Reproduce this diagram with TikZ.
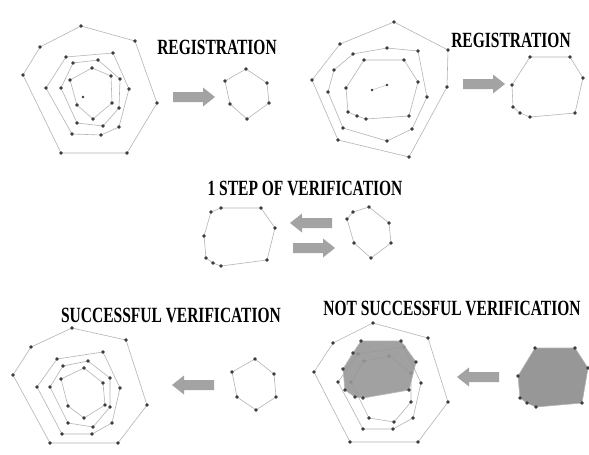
\documentclass[tikz,border=0pt]{standalone}
\usepackage{fontspec}
\setmainfont{Liberation Serif}
\definecolor{wire}{HTML}{B4B4B4}
\definecolor{dotc}{HTML}{3A3A3A}
\definecolor{arrowc}{HTML}{A3A3A3}
\definecolor{blob}{HTML}{979797}

\newcommand{\ring}[2][]{\draw[wire,line width=0.6pt,#1] plot[mark=*,mark size=1.35pt,mark options={draw=dotc,fill=dotc}] coordinates {#2} -- cycle;}

\begin{document}
\begin{tikzpicture}[x=1pt,y=-1pt,
  title/.style={font=\fontsize{15.5}{15.5}\selectfont\bfseries,yscale=1.4,inner sep=0pt,text=black},
  blockarrow/.pic={\fill[arrowc] (-21,-5) -- (9,-5) -- (9,-9.5) -- (21,0) -- (9,9.5) -- (9,5) -- (-21,5) -- cycle;
    \coordinate (-tip) at (21,0);}]
\useasboundingbox (0,0) rectangle (589,455);
\fill[white] (0,0) rectangle (589,455);
% top left
\ring{(81,26)(135,41)(157,103)(127,153)(61,153)(23,75)(40,47)}
\ring{(66,57)(113,53)(129,89)(119,127)(101,135)(72,134)(46,88)}
\ring{(73,63)(98,60)(120,79)(119,108)(103,126)(77,123)(61,88)}
\ring{(92,68)(111,76)(112,103)(93,119)(77,105)(70,80)}
\fill[dotc] (83,97) circle (1.35);
\node[title] (reg1) at (217,47) {REGISTRATION};
\pic (a1) at (194,97) {blockarrow};
\ring{(246,69)(267,83)(269,103)(247,119)(230,104)(225,81)}
% top right
\ring{(394,22)(448,50)(447,87)(409,157)(338,140)(312,80)(340,44)}
\ring{(387,48)(418,51)(427,97)(412,129)(387,141)(343,128)(328,92)(334,70)(353,54)}
\ring{(364,60)(404,60)(418,82)(409,116)(366,119)(357,116)(348,112)(346,88)}
\draw[wire] (372,90) -- (387,85);
\fill[dotc] (372,90) circle (1.35) (387,85) circle (1.35);
\node[title] (reg2) at (511,40) {REGISTRATION};
\pic (a2) at (484,84) {blockarrow};
\ring{(530,57)(570,57)(583,78)(575,113)(530,117)(520,113)(513,107)(512,85)}
% middle
\node[title] (step) at (305,188) {1 STEP OF VERIFICATION};
\ring{(221,208)(261,208)(275,228)(267,260)(221,266)(213,263)(206,258)(204,236)(211,212)}
\pic[xscale=-1] (a3) at (311,223) {blockarrow};
\pic (a4) at (314,248) {blockarrow};
\ring{(369,207)(389,223)(391,243)(371,258)(354,243)(347,219)(353,212)}
% bottom left
\node[title] (ok) at (171,315) {SUCCESSFUL VERIFICATION};
\ring{(72,328)(126,340)(147,405)(118,443)(50,443)(13,375)(31,347)}
\ring{(57,359)(103,352)(120,388)(112,423)(92,434)(62,434)(37,387)}
\ring{(63,366)(88,361)(110,378)(110,407)(93,427)(68,423)(50,387)}
\ring{(84,368)(103,383)(105,405)(84,418)(68,406)(61,379)}
\pic[xscale=-1] (a5) at (193,385) {blockarrow};
\ring{(255,359)(274,374)(276,397)(256,410)(237,397)(232,372)}
% bottom right
\node[title] (notok) at (452,308) {NOT SUCCESSFUL VERIFICATION};
\ring{(373,323)(428,338)(448,402)(418,442)(350,442)(314,372)(333,343)}
\ring{(358,354)(404,347)(421,383)(413,418)(393,429)(363,429)(338,382)}
\ring{(364,361)(389,356)(411,373)(411,402)(394,422)(369,418)(351,382)}
\ring[fill=blob,fill opacity=0.9]{(361,341)(401,341)(416,362)(409,390)(363,398)(355,397)(345,390)(343,369)(353,353)}
\pic[xscale=-1] (a6) at (478,377) {blockarrow};
\ring[fill=blob]{(535,348)(575,348)(588,368)(582,403)(536,407)(527,403)(520,398)(518,376)}
\end{tikzpicture}
\end{document}
